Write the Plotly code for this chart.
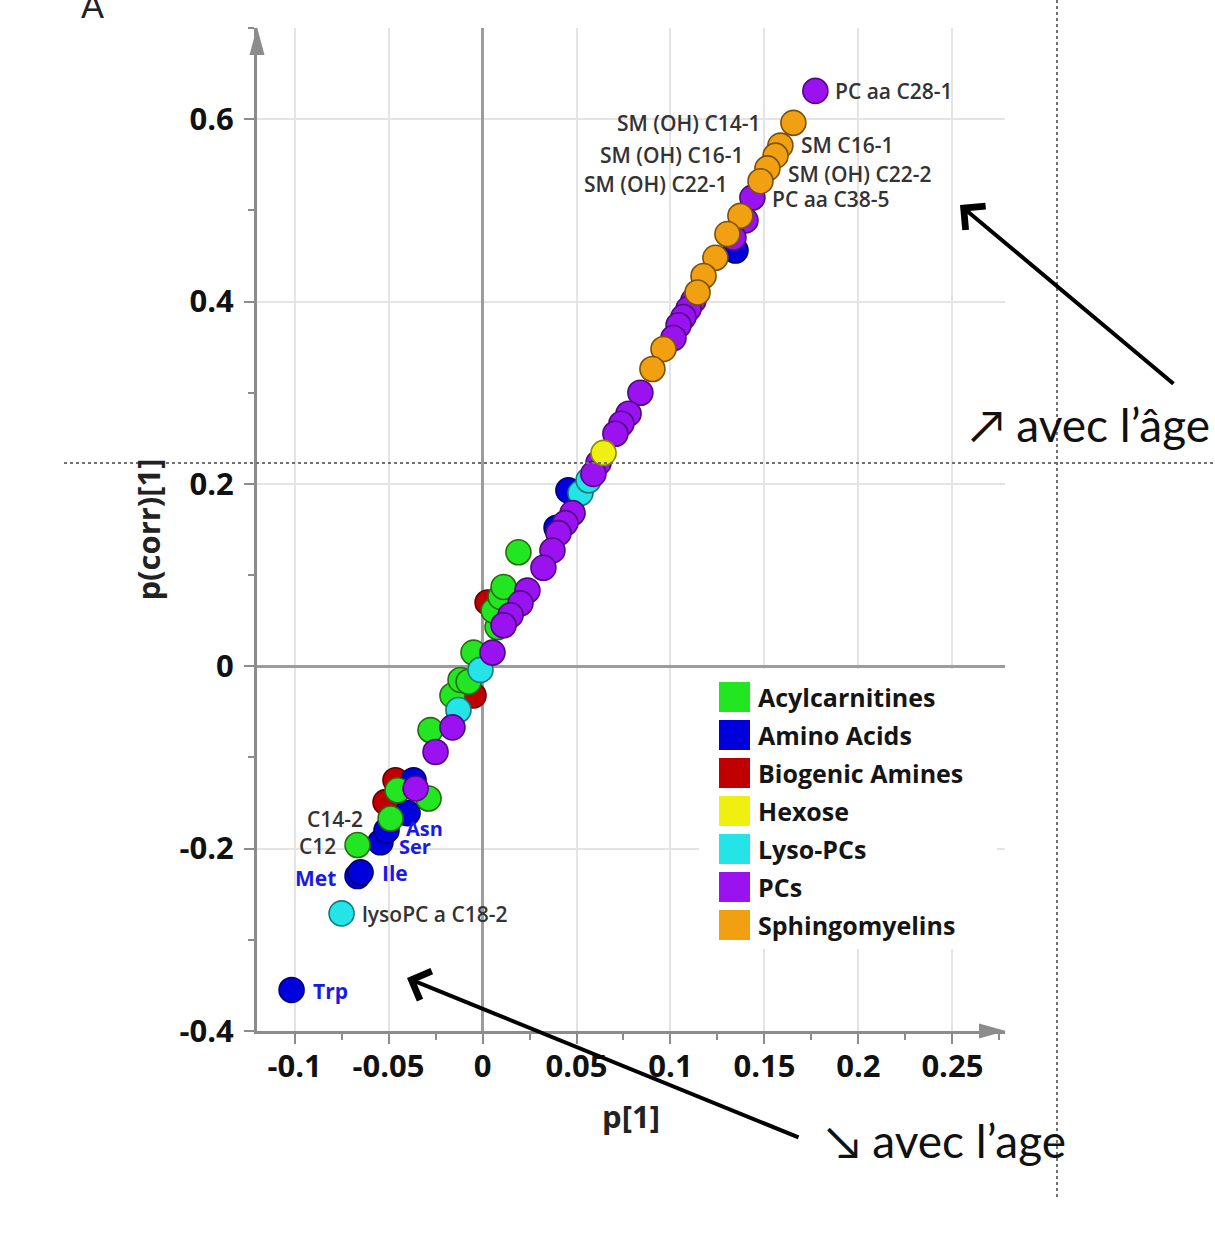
import plotly.graph_objects as go

# ---------------- data ----------------
categories = ["Acylcarnitines", "Amino Acids", "Biogenic Amines", "Hexose",
              "Lyso-PCs", "PCs", "Sphingomyelins"]

acyl_p = [-0.0665, -0.0489, -0.0452, -0.0287, -0.0277, -0.0160, -0.0117, -0.0074,
          -0.0048, 0.0080, 0.0059, 0.0096, 0.0112, 0.0191]
acyl_pcorr = [-0.196, -0.167, -0.136, -0.145, -0.070, -0.032, -0.015, -0.017,
              0.015, 0.043, 0.061, 0.076, 0.087, 0.125]

amino_p = [-0.1016, -0.0665, -0.0649, -0.0543, -0.0511, -0.0399, -0.0367,
           0.0457, 0.0394, 0.1346]
amino_pcorr = [-0.355, -0.230, -0.226, -0.193, -0.180, -0.161, -0.125,
               0.193, 0.152, 0.456]

biogenic_p = [-0.0516, -0.0463, -0.0048, 0.0027]
biogenic_pcorr = [-0.149, -0.125, -0.032, 0.070]

hexose_p = [0.0644]
hexose_pcorr = [0.234]

lyso_p = [-0.0750, -0.0128, -0.0011, 0.0521, 0.0564]
lyso_pcorr = [-0.271, -0.048, -0.004, 0.190, 0.204]

pc_p = [0.1771, 0.1436, 0.1399, 0.1335, 0.1122, 0.1096, 0.1069, 0.1043, 0.1016,
        0.0840, 0.0777, 0.0739, 0.0707, 0.0617, 0.0590, 0.0479, 0.0441, 0.0404,
        0.0372, 0.0324, 0.0239, 0.0202, 0.0149, 0.0112, 0.0053, -0.0160,
        -0.0250, -0.0356]
pc_pcorr = [0.631, 0.514, 0.489, 0.470, 0.401, 0.392, 0.383, 0.374, 0.360,
            0.300, 0.277, 0.266, 0.255, 0.223, 0.211, 0.168, 0.157, 0.146,
            0.127, 0.108, 0.083, 0.069, 0.056, 0.045, 0.015, -0.067,
            -0.094, -0.134]

sm_p = [0.1654, 0.1585, 0.1559, 0.1516, 0.1479, 0.1372, 0.1303, 0.1239, 0.1176,
        0.1144, 0.0963, 0.0904]
sm_pcorr = [0.596, 0.571, 0.560, 0.546, 0.532, 0.494, 0.474, 0.448, 0.428,
            0.410, 0.348, 0.326]

series = {
    "Acylcarnitines": (acyl_p, acyl_pcorr),
    "Amino Acids": (amino_p, amino_pcorr),
    "Biogenic Amines": (biogenic_p, biogenic_pcorr),
    "Hexose": (hexose_p, hexose_pcorr),
    "Lyso-PCs": (lyso_p, lyso_pcorr),
    "PCs": (pc_p, pc_pcorr),
    "Sphingomyelins": (sm_p, sm_pcorr),
}

# labelled points: (text, category, index in that category)
label_text = ["PC aa C28-1", "SM (OH) C14-1", "SM C16-1", "SM (OH) C16-1",
              "SM (OH) C22-2", "SM (OH) C22-1", "PC aa C38-5", "Trp",
              "lysoPC a C18-2", "Met", "Ile", "C12", "C14-2", "Ser", "Asn"]
label_cat = ["PCs", "Sphingomyelins", "Sphingomyelins", "Sphingomyelins",
             "Sphingomyelins", "Sphingomyelins", "PCs", "Amino Acids",
             "Lyso-PCs", "Amino Acids", "Amino Acids", "Acylcarnitines",
             "Acylcarnitines", "Amino Acids", "Amino Acids"]
label_idx = [0, 0, 1, 2, 3, 4, 1, 0, 0, 1, 2, 0, 1, 3, 4]

x_ticks = [-0.1, -0.05, 0, 0.05, 0.1, 0.15, 0.2, 0.25]
x_ticktext = ["-0.1", "-0.05", "0", "0.05", "0.1", "0.15", "0.2", "0.25"]
y_ticks = [-0.4, -0.2, 0, 0.2, 0.4, 0.6]
y_ticktext = ["-0.4", "-0.2", "0", "0.2", "0.4", "0.6"]

# ---------------- styles ----------------
fill = {"Acylcarnitines": "#22e622", "Amino Acids": "#0000dc",
        "Biogenic Amines": "#c00000", "Hexose": "#f0f010",
        "Lyso-PCs": "#24e4e8", "PCs": "#9a12f0", "Sphingomyelins": "#f0a010"}
edge = {"Acylcarnitines": "#2a6a10", "Amino Acids": "#000070",
        "Biogenic Amines": "#600000", "Hexose": "#8a8a00",
        "Lyso-PCs": "#107878", "PCs": "#4c0a80", "Sphingomyelins": "#7a5008"}
draw_order = ["Biogenic Amines", "Amino Acids", "Acylcarnitines", "Lyso-PCs",
              "PCs", "Hexose", "Sphingomyelins"]
# label placement (side, dx px, dy px, font size)
label_place = [("r", 18, 0, 21), ("l", -30, 0, 21), ("r", 19, 1, 21),
               ("l", -30, 1, 21), ("r", 19, -6, 21), ("l", -30, -3, 21),
               ("r", 18, -1, 21), ("r", 19, -1, 21), ("r", 18, -1, 21),
               ("l", -20, -2, 21), ("r", 19, -1, 21), ("l", -20, -1, 21),
               ("l", -26, 0, 21), ("r", 17, -4, 20), ("r", 18, 2, 20)]

W, H = 1215, 1257
L, R, T, B = 257, 1005, 28, 1031


def px(x):
    return (x - L) / (R - L)


def py(y):
    return (B - y) / (B - T)


fig = go.Figure()
for cat in draw_order:
    xs, ys = series[cat]
    fig.add_trace(go.Scatter(
        x=xs, y=ys, mode="markers", name=cat, showlegend=False,
        cliponaxis=False,
        marker=dict(size=25, color=fill[cat], line=dict(color=edge[cat], width=1.6)),
    ))

# point labels
for txt, cat, i, (side, dx, dy, fs) in zip(label_text, label_cat, label_idx, label_place):
    xs, ys = series[cat]
    blue = cat == "Amino Acids"
    fig.add_annotation(
        x=xs[i], y=ys[i], xref="x", yref="y", text=txt, showarrow=False,
        xanchor="left" if side == "r" else "right", yanchor="middle",
        xshift=dx, yshift=dy,
        font=dict(family="Open Sans", size=fs,
                  color="#1a1ae6" if blue else "#333333",
                  weight="bold" if blue else 600),
    )

axis_common = dict(
    showline=True, linecolor="#8c8c8c", linewidth=3,
    showgrid=True, gridcolor="#e4e4e4", gridwidth=2,
    ticks="outside", ticklen=10, tickwidth=1.5, tickcolor="#8c8c8c",
    tickfont=dict(family="Open Sans", size=31, color="#111111", weight="bold"),
    zeroline=True, zerolinecolor="#9c9c9c", zerolinewidth=2.5,
)

fig.update_layout(
    width=W, height=H,
    margin=dict(l=L, r=W - R, t=T, b=H - B, autoexpand=False),
    paper_bgcolor="white", plot_bgcolor="white",
    xaxis=dict(range=[-0.12, 0.278], tickvals=x_ticks, ticktext=x_ticktext,
               minor=dict(dtick=0.025, tick0=0, ticks="outside", ticklen=6,
                          tickcolor="#8c8c8c", showgrid=False),
               title=dict(text="p[1]", standoff=22,
                          font=dict(family="Open Sans", size=31, color="#222222",
                                    weight="bold")),
               ticklabelstandoff=-4, automargin=False, **axis_common),
    yaxis=dict(range=[-0.4, 0.7], tickvals=y_ticks, ticktext=y_ticktext,
               minor=dict(dtick=0.1, tick0=0, ticks="outside", ticklen=6,
                          tickcolor="#8c8c8c", showgrid=False),
               title=dict(text="p(corr)[1]", standoff=10,
                          font=dict(family="Open Sans", size=31, color="#222222",
                                    weight="bold")),
               ticklabelstandoff=4, automargin=False, **axis_common),
)

shapes = []
# axis arrowheads
shapes.append(dict(type="path", xref="paper", yref="paper", layer="above",
                   path=f"M{px(257)},{py(27)} L{px(249.5)},{py(55)} L{px(264.5)},{py(55)} Z",
                   fillcolor="#8c8c8c", line=dict(width=0)))
shapes.append(dict(type="path", xref="paper", yref="paper", layer="above",
                   path=f"M{px(1006)},{py(1031)} L{px(979)},{py(1023.5)} L{px(979)},{py(1038.5)} Z",
                   fillcolor="#8c8c8c", line=dict(width=0)))
# legend box
shapes.append(dict(type="rect", xref="paper", yref="paper", layer="above",
                   x0=px(699), x1=px(997), y0=py(949), y1=py(669),
                   fillcolor="white", line=dict(width=0)))
row0, row_gap = 697, 38
for k, cat in enumerate(categories):
    yc = row0 + k * row_gap
    shapes.append(dict(type="rect", xref="paper", yref="paper", layer="above",
                       x0=px(719), x1=px(750), y0=py(yc + 15), y1=py(yc - 15),
                       fillcolor=fill[cat], line=dict(width=0)))
    fig.add_annotation(x=px(756), y=py(yc), xref="paper", yref="paper", text=cat,
                       showarrow=False, xanchor="left", yanchor="middle",
                       font=dict(family="Open Sans", size=25, color="#151515",
                                 weight="bold"))
# dotted guide lines
shapes.append(dict(type="line", xref="paper", yref="paper", layer="above",
                   x0=px(64), x1=px(1215), y0=py(463), y1=py(463),
                   line=dict(color="#707070", width=2, dash="dot")))
shapes.append(dict(type="line", xref="paper", yref="paper", layer="above",
                   x0=px(1057), x1=px(1057), y0=py(0), y1=py(1200),
                   line=dict(color="#707070", width=2, dash="dot")))
fig.update_layout(shapes=shapes)

# black arrows
fig.add_annotation(x=px(960), y=py(205), xref="paper", yref="paper", text="",
                   showarrow=True, ax=1175 - 960, ay=385 - 205,
                   arrowhead=4, arrowsize=1.5, arrowwidth=4, arrowcolor="black")
fig.add_annotation(x=px(407), y=py(978), xref="paper", yref="paper", text="",
                   showarrow=True, ax=800 - 407, ay=1138 - 978,
                   arrowhead=4, arrowsize=1.5, arrowwidth=4, arrowcolor="black")

# outer texts
fig.add_annotation(x=px(968), y=py(424), xref="paper", yref="paper",
                   text="↗ avec l’âge", showarrow=False, xanchor="left",
                   yanchor="middle", font=dict(family="Lato", size=46, color="#111111"))
fig.add_annotation(x=px(824), y=py(1140), xref="paper", yref="paper",
                   text="↘ avec l’age", showarrow=False, xanchor="left",
                   yanchor="middle", font=dict(family="Lato", size=46, color="#111111"))
fig.add_annotation(x=px(92), y=py(4), xref="paper", yref="paper",
                   text="A", showarrow=False, xanchor="center",
                   yanchor="middle", font=dict(family="Lato", size=34, color="#222222"))

fig.write_html("out.html", config={"displayModeBar": False},
               post_script="document.body.style.margin='0';")
